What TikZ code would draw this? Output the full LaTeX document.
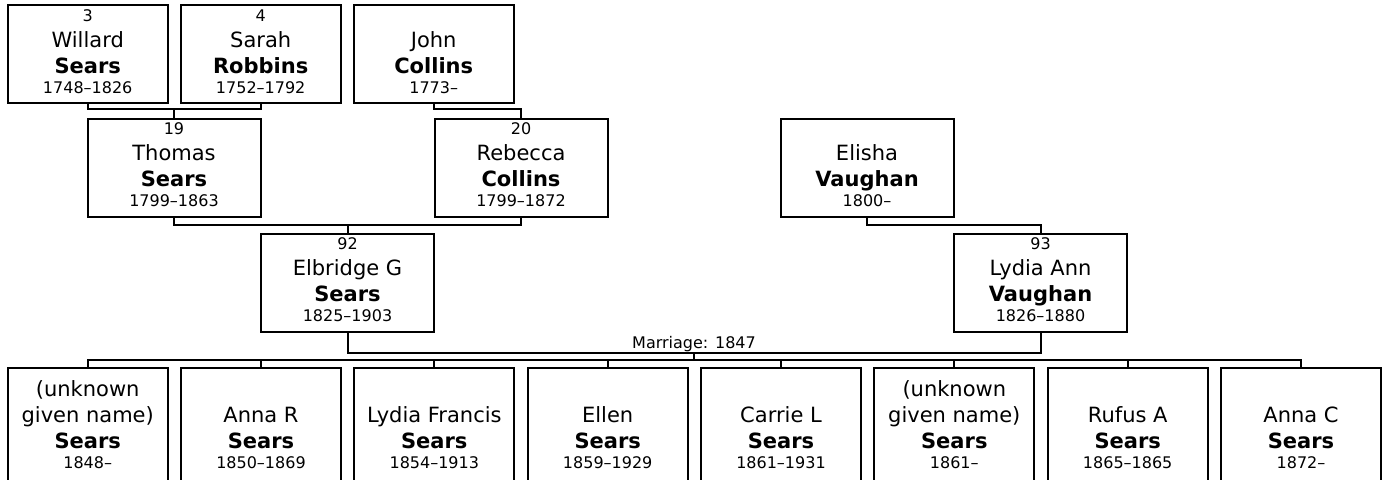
\documentclass[tikz,border=0pt]{standalone}
\usepackage{fontspec}
\setmainfont{DejaVu Sans}
\usepackage{tikz}
\usetikzlibrary{positioning,calc}
\newcommand{\detail}{\fontsize{16}{19}\selectfont}

\begin{document}
\begin{tikzpicture}[
  x=1pt, y=-1pt,
  font=\fontsize{21}{26}\selectfont,
  person/.style={
    draw=black,
    fill=white,
    line width=2pt,
    inner sep=0pt,
    outer sep=0pt,
    align=center,
    minimum width=#1,
    minimum height=98pt
  },
  person/.default=173pt,
  kid/.style={
    person=160pt,
    minimum height=120pt
  },
  link/.style={
    draw=black,
    line width=2pt
  }
]
  \useasboundingbox (0,0) rectangle (1386,479);
  \clip (0,0) rectangle (1386,479);

  % --- GREAT-GRANDPARENTS ---
  \node[person=160pt] (willard) at (87.7, 54.2) {{\detail 3}\\Willard\\\textbf{Sears}\\[-6pt]{\detail 1748–1826}\rule[-6pt]{0pt}{6pt}};
  \node[person=160pt] (sarah) at (260.7, 54.2) {{\detail 4}\\Sarah\\\textbf{Robbins}\\[-6pt]{\detail 1752–1792}\rule[-6pt]{0pt}{6pt}};
  \node[person=160pt] (john) at (433.7, 54.2) {{\detail\phantom{4}}\\John\\\textbf{Collins}\\[-6pt]{\detail 1773–}\rule[-6pt]{0pt}{6pt}};

  % --- GRANDPARENTS ---
  \node[person] (thomas) at (174, 168) {{\detail 19}\\Thomas\\\textbf{Sears}\\[-6pt]{\detail 1799–1863}\rule[-6pt]{0pt}{6pt}};
  \node[person] (rebecca) at (521, 168) {{\detail 20}\\Rebecca\\\textbf{Collins}\\[-6pt]{\detail 1799–1872}\rule[-6pt]{0pt}{6pt}};
  \node[person] (elisha) at (867, 168) {{\detail\phantom{20}}\\Elisha\\\textbf{Vaughan}\\[-6pt]{\detail 1800–}\rule[-6pt]{0pt}{6pt}};

  % --- PARENTS ---
  \node[person] (elbridge) at (347.5, 282.5) {{\detail 92}\\Elbridge G\\\textbf{Sears}\\[-6pt]{\detail 1825–1903}\rule[-6pt]{0pt}{6pt}};
  \node[person] (lydia) at (1040.5, 282.5) {{\detail 93}\\Lydia Ann\\\textbf{Vaughan}\\[-6pt]{\detail 1826–1880}\rule[-6pt]{0pt}{6pt}};

  % --- CHILDREN ---
  \node[kid] (kid1) at (87.7, 428) {(unknown\\given name)\\\textbf{Sears}\\[-6pt]{\detail 1848–}\rule[-6pt]{0pt}{6pt}};
  \node[kid] (kid2) at (261.0, 428) {\phantom{(}\\Anna R\\\textbf{Sears}\\[-6pt]{\detail 1850–1869}\rule[-6pt]{0pt}{6pt}};
  \node[kid] (kid3) at (434.3, 428) {\phantom{(}\\Lydia Francis\\\textbf{Sears}\\[-6pt]{\detail 1854–1913}\rule[-6pt]{0pt}{6pt}};
  \node[kid] (kid4) at (607.7, 428) {\phantom{(}\\Ellen\\\textbf{Sears}\\[-6pt]{\detail 1859–1929}\rule[-6pt]{0pt}{6pt}};
  \node[kid] (kid5) at (781.0, 428) {\phantom{(}\\Carrie L\\\textbf{Sears}\\[-6pt]{\detail 1861–1931}\rule[-6pt]{0pt}{6pt}};
  \node[kid] (kid6) at (954.3, 428) {(unknown\\given name)\\\textbf{Sears}\\[-6pt]{\detail 1861–}\rule[-6pt]{0pt}{6pt}};
  \node[kid] (kid7) at (1127.7, 428) {\phantom{(}\\Rufus A\\\textbf{Sears}\\[-6pt]{\detail 1865–1865}\rule[-6pt]{0pt}{6pt}};
  \node[kid] (kid8) at (1301.0, 428) {\phantom{(}\\Anna C\\\textbf{Sears}\\[-6pt]{\detail 1872–}\rule[-6pt]{0pt}{6pt}};

  % --- FAMILY LINKS ---
  \coordinate (bar1) at ($(willard.south)+(0,6)$);
  \draw[link] (willard.south) -- (bar1) -| (sarah.south);
  \draw[link] (thomas.north) -- (thomas.north |- bar1);
  \draw[link] (john.south) -- ++(0,6) -| (rebecca.north);

  \coordinate (bar2) at ($(thomas.south)+(0,8)$);
  \draw[link] (thomas.south) -- (bar2) -| (rebecca.south);
  \draw[link] (elbridge.north) -- (elbridge.north |- bar2);
  \draw[link] (elisha.south) -- ++(0,8) -| (lydia.north);

  % marriage and children
  \coordinate (marr) at ($(elbridge.south)!0.5!(lydia.south)+(0,21)$);
  \draw[link] (elbridge.south) |- (marr) -| (lydia.south);
  \node[anchor=base, font=\detail, inner sep=0pt] (marrlabel) at ($(marr)+(0,-4)$) {Marriage: 1847};
  \coordinate (kidbar) at ($(marr)+(0,7)$);
  \draw[link] (marr) -- (kidbar);
  \draw[link] (kid1.north) -- (kid1.north |- kidbar) -- (kid8.north |- kidbar) -- (kid8.north);
  \draw[link] (kid2.north) -- (kid2.north |- kidbar);
  \draw[link] (kid3.north) -- (kid3.north |- kidbar);
  \draw[link] (kid4.north) -- (kid4.north |- kidbar);
  \draw[link] (kid5.north) -- (kid5.north |- kidbar);
  \draw[link] (kid6.north) -- (kid6.north |- kidbar);
  \draw[link] (kid7.north) -- (kid7.north |- kidbar);

\end{tikzpicture}
\end{document}
